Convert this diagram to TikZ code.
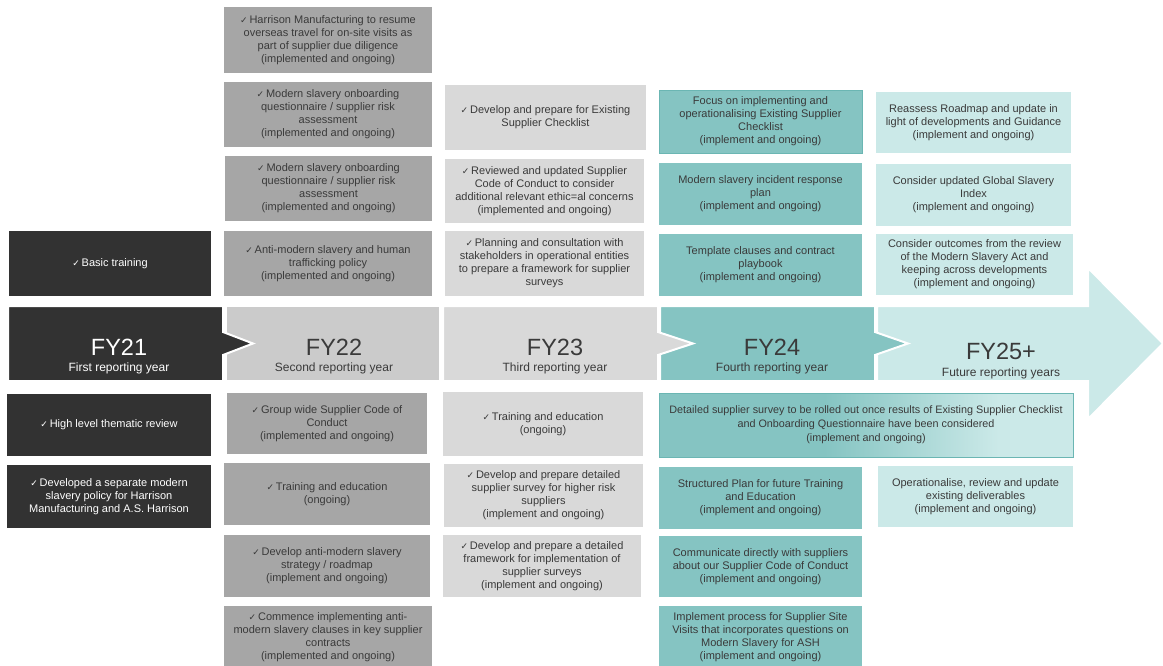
\documentclass[tikz,border=0pt]{standalone}
\usepackage{fontspec}
\setmainfont{Liberation Sans}
\newfontfamily\symfont{DejaVu Sans}
\usepackage{xcolor}
\definecolor{fyone}{HTML}{323232}
\definecolor{fytwo}{HTML}{CBCBCB}
\definecolor{fytwobox}{HTML}{A6A6A6}
\definecolor{fythree}{HTML}{D9D9D9}
\definecolor{fyfour}{HTML}{85C4C2}
\definecolor{fyfourline}{HTML}{6BB6B3}
\definecolor{fyfive}{HTML}{CBE9E8}
\definecolor{txt}{HTML}{3A3A3A}
\newcommand{\chk}{{\symfont\fontsize{9}{9}\selectfont ✓}\,}
\pgfdeclarehorizontalshading{surveyshade}{100bp}{color(0bp)=(fyfour); color(45bp)=(fyfour); color(66bp)=(fyfive); color(100bp)=(fyfive)}

\begin{document}
\begin{tikzpicture}[x=1pt, y=-1pt,
  box/.style={inner sep=1pt, align=center, text=txt, font=\fontsize{11}{13}\selectfont},
  wh/.style 2 args={minimum width=#1pt, minimum height=#2pt},
  darkbox/.style={box, fill=fyone, text=white},
  midbox/.style={box, fill=fytwobox},
  lightbox/.style={box, fill=fythree},
  tealbox/.style={box, fill=fyfour},
  palebox/.style={box, fill=fyfive},
  banner/.style={draw=white, line width=2pt},
  year/.style={anchor=base, text=txt, font=\fontsize{23.5}{26}\selectfont},
  yearsub/.style={anchor=base, text=txt, font=\fontsize{12}{13}\selectfont}]
\useasboundingbox (0,0) rectangle (1163,666);

% banner, drawn from right to left
\filldraw[banner, fill=fyfive] (877,306) -- (1088,306) -- (1088,268) -- (1163,343.5) -- (1088,419) -- (1088,381) -- (877,381) -- cycle;
\filldraw[banner, fill=fyfour] (660,306) -- (875,306) -- (875,332) -- (908,343.5) -- (875,355) -- (875,381) -- (660,381) -- cycle;
\filldraw[banner, fill=fythree] (443,306) -- (658,306) -- (658,332) -- (693,343.5) -- (658,355) -- (658,381) -- (443,381) -- cycle;
\filldraw[banner, fill=fytwo] (226,306) rectangle (440,381);
\filldraw[banner, fill=fyone] (8,306) -- (223,306) -- (223,332) -- (253,343.5) -- (223,355) -- (223,381) -- (8,381) -- cycle;

\node[year, text=white] (fy21) at (119,355) {FY21};
\node[yearsub, text=white] (fy21s) at (119,371) {First reporting year};
\node[year] (fy22) at (334,355) {FY22};
\node[yearsub] (fy22s) at (334,371) {Second reporting year};
\node[year] (fy23) at (555,355) {FY23};
\node[yearsub] (fy23s) at (555,371) {Third reporting year};
\node[year] (fy24) at (772,355) {FY24};
\node[yearsub] (fy24s) at (772,371) {Fourth reporting year};
\node[year] (fy25) at (1001,359) {FY25+};
\node[yearsub] (fy25s) at (1001,376) {Future reporting years};

% FY21
\node[darkbox, wh={202}{65}] (b21a) at (110,263.5) {\chk Basic training};
\node[darkbox, wh={204}{62}] (b21b) at (109,425) {\chk High level thematic review};
\node[darkbox, wh={204}{63}] (b21c) at (109,496.5) {\chk Developed a separate modern\\slavery policy for Harrison\\Manufacturing and A.S. Harrison};

% FY22
\node[midbox, wh={208}{66}] (b22a) at (328,40) {\chk Harrison Manufacturing to resume\\overseas travel for on-site visits as\\part of supplier due diligence\\(implemented and ongoing)};
\node[midbox, wh={208}{65}] (b22b) at (328,114.5) {\chk Modern slavery onboarding\\questionnaire / supplier risk\\assessment\\(implemented and ongoing)};
\node[midbox, wh={207}{65}] (b22c) at (328.5,188.5) {\chk Modern slavery onboarding\\questionnaire / supplier risk\\assessment\\(implemented and ongoing)};
\node[midbox, wh={208}{65}] (b22d) at (328,263.5) {\chk Anti-modern slavery and human\\trafficking policy\\(implemented and ongoing)};
\node[midbox, wh={200}{61}] (b22e) at (327,423.5) {\chk Group wide Supplier Code of\\Conduct\\(implemented and ongoing)};
\node[midbox, wh={206}{62}] (b22f) at (327,494) {\chk Training and education\\(ongoing)};
\node[midbox, wh={206}{62}] (b22g) at (327,566) {\chk Develop anti-modern slavery\\strategy / roadmap\\(implement and ongoing)};
\node[midbox, wh={208}{62}] (b22h) at (328,637) {\chk Commence implementing anti-\\modern slavery clauses in key supplier\\contracts\\(implemented and ongoing)};

% FY23
\node[lightbox, wh={201}{65}] (b23a) at (545.5,117.5) {\chk Develop and prepare for Existing\\Supplier Checklist};
\node[lightbox, wh={199}{64}] (b23b) at (544.5,191) {\chk Reviewed and updated Supplier\\Code of Conduct to consider\\additional relevant ethic=al concerns\\(implemented and ongoing)};
\node[lightbox, wh={199}{65}] (b23c) at (544.5,263.5) {\chk Planning and consultation with\\stakeholders in operational entities\\to prepare a framework for supplier\\surveys};
\node[lightbox, wh={200}{64}] (b23d) at (543,424) {\chk Training and education\\(ongoing)};
\node[lightbox, wh={199}{63}] (b23e) at (543.5,495.5) {\chk Develop and prepare detailed\\supplier survey for higher risk\\suppliers\\(implement and ongoing)};
\node[lightbox, wh={198}{62}] (b23f) at (542,566) {\chk Develop and prepare a detailed\\framework for implementation of\\supplier surveys\\(implement and ongoing)};

% FY24
\node[tealbox, draw=fyfourline, wh={203}{63}] (b24a) at (760.5,121.5) {Focus on implementing and\\operationalising Existing Supplier\\Checklist\\(implement and ongoing)};
\node[tealbox, wh={203}{62}] (b24b) at (760.5,194) {Modern slavery incident response\\plan\\(implement and ongoing)};
\node[tealbox, wh={203}{62}] (b24c) at (760.5,265) {Template clauses and contract\\playbook\\(implement and ongoing)};
\node[box, shading=surveyshade, draw=fyfourline, wh={414}{64}, font=\fontsize{10.8}{14}\selectfont] (b24d) at (866,425) {Detailed supplier survey to be rolled out once results of Existing Supplier Checklist\\and Onboarding Questionnaire have been considered\\(implement and ongoing)};
\node[tealbox, wh={203}{62}] (b24e) at (760.5,498) {Structured Plan for future Training\\and Education\\(implement and ongoing)};
\node[tealbox, wh={203}{61}] (b24f) at (760.5,566.5) {Communicate directly with suppliers\\about our Supplier Code of Conduct\\(implement and ongoing)};
\node[tealbox, wh={203}{62}] (b24g) at (760.5,637) {Implement process for Supplier Site\\Visits that incorporates questions on\\Modern Slavery for ASH\\(implement and ongoing)};

% FY25+
\node[palebox, wh={195}{61}] (b25a) at (973.5,122.5) {Reassess Roadmap and update in\\light of developments and Guidance\\(implement and ongoing)};
\node[palebox, wh={195}{62}] (b25b) at (973.5,195) {Consider updated Global Slavery\\Index\\(implement and ongoing)};
\node[palebox, wh={197}{61}] (b25c) at (974.5,264.5) {Consider outcomes from the review\\of the Modern Slavery Act and\\keeping across developments\\(implement and ongoing)};
\node[palebox, wh={195}{61}] (b25d) at (975.5,496.5) {Operationalise, review and update\\existing deliverables\\(implement and ongoing)};
\end{tikzpicture}
\end{document}
